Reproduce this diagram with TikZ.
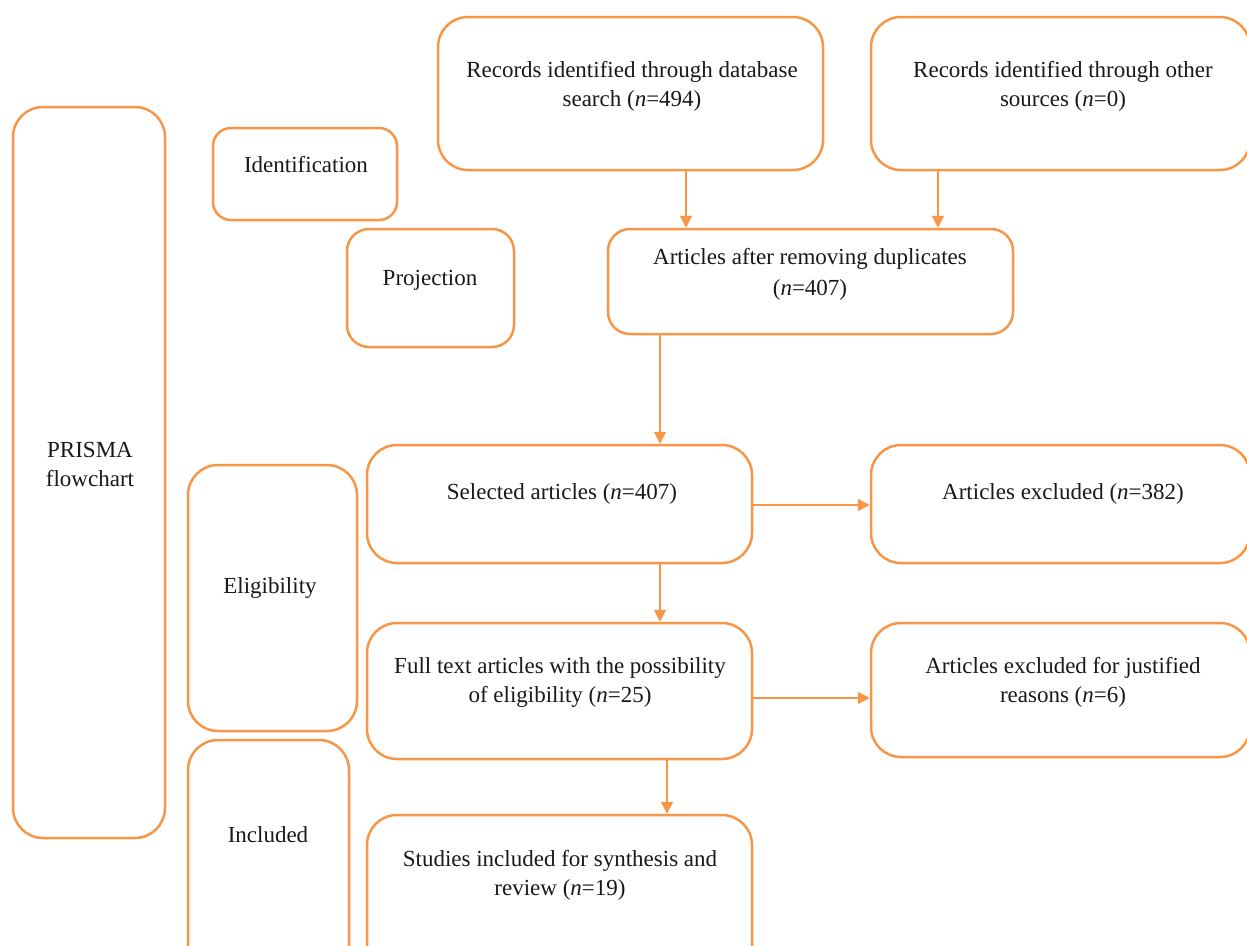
\documentclass[tikz,border=0pt]{standalone}
\usepackage{fontspec}
\setmainfont{Liberation Serif}
\usetikzlibrary{arrows.meta}
\definecolor{boxorange}{RGB}{247,150,70}
\tikzset{
  box/.style={draw=boxorange, line width=2.5pt, inner sep=0pt, rounded corners=#1},
  box/.default=28pt,
  txt/.style={font=\fontsize{23}{29}\selectfont, align=center, text=black!90, inner sep=0pt},
  arr/.style={draw=boxorange, line width=1.5pt, -{Triangle[length=12pt,width=12pt]}}
}
\begin{document}
\begin{tikzpicture}[x=1pt,y=-1pt]
\clip (0,0) rectangle (1247,945);
\fill[white] (0,0) rectangle (1247,945);
% boxes
\node[box=30pt, minimum width=152pt, minimum height=731pt] (prisma) at (89,472.5) {};
\node[box=18pt, minimum width=184pt, minimum height=92pt] (ident) at (305,174) {};
\node[box=22pt, minimum width=167pt, minimum height=118pt] (proj) at (430.5,288) {};
\node[box=30pt, minimum width=385pt, minimum height=153pt] (db) at (630.5,93.5) {};
\node[box=30pt, minimum width=379pt, minimum height=153pt] (other) at (1060.5,93.5) {};
\node[box=22pt, minimum width=405pt, minimum height=105pt] (dup) at (810.5,281.5) {};
\node[box=30pt, minimum width=385pt, minimum height=118pt] (sel) at (559.5,504) {};
\node[box=30pt, minimum width=379pt, minimum height=118pt] (exc) at (1060.5,504) {};
\node[box=30pt, minimum width=169pt, minimum height=266pt] (elig) at (272.5,598) {};
\node[box=30pt, minimum width=385pt, minimum height=136pt] (full) at (559.5,691) {};
\node[box=30pt, minimum width=379pt, minimum height=134pt] (just) at (1060.5,690) {};
\node[box=30pt, minimum width=161pt, minimum height=240pt] (incl) at (268.5,860) {};
\node[box=30pt, minimum width=385pt, minimum height=165pt] (stud) at (559.5,897.5) {};
% texts
\node[txt] (tprisma) at (90,464) {PRISMA\\flowchart};
\node[txt] (tident) at (306,165) {Identification};
\node[txt] (tproj) at (430,280) {Projection};
\node[txt] (tdb) at (632,86) {Records identified through database\\search (\textit{n}=494)};
\node[txt] (tother) at (1063,86) {Records identified through other\\sources (\textit{n}=0)};
\node[txt, font=\fontsize{23}{31}\selectfont] (tdup) at (810,274) {Articles after removing duplicates\\(\textit{n}=407)};
\node[txt] (tsel) at (562,494) {Selected articles (\textit{n}=407)};
\node[txt] (texc) at (1063,494) {Articles excluded (\textit{n}=382)};
\node[txt] (telig) at (270,588) {Eligibility};
\node[txt] (tfull) at (560,682) {Full text articles with the possibility\\of eligibility (\textit{n}=25)};
\node[txt] (tjust) at (1063,682) {Articles excluded for justified\\reasons (\textit{n}=6)};
\node[txt] (tincl) at (268,835) {Included};
\node[txt] (tstud) at (560,875) {Studies included for synthesis and\\review (\textit{n}=19)};
% connectors
\draw[arr] (db.south -| 686,0) -- (dup.north -| 686,0);
\draw[arr] (other.south -| 938,0) -- (dup.north -| 938,0);
\draw[arr] (dup.south -| 660,0) -- (sel.north -| 660,0);
\draw[arr] (sel.east |- 0,505) -- (exc.west |- 0,505);
\draw[arr] (sel.south -| 660,0) -- (full.north -| 660,0);
\draw[arr] (full.east |- 0,698) -- (just.west |- 0,698);
\draw[arr] (full.south -| 667,0) -- (stud.north -| 667,0);
\end{tikzpicture}
\end{document}
